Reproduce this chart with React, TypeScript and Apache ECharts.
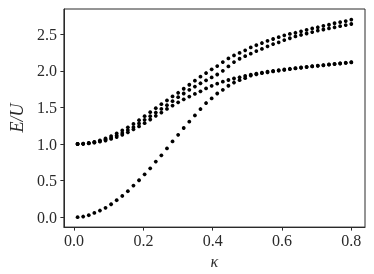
import React, { useEffect, useRef } from "react";
import * as echarts from "echarts";

const kappa: number[] = Array.from({ length: 50 }, (_, i) => 0.01 + (i * 0.79) / 49);

const ground: number[] = [
  0.0, 0.009, 0.027, 0.058, 0.091, 0.128, 0.177, 0.232, 0.29, 0.355,
  0.432, 0.505, 0.586, 0.668, 0.76, 0.845, 0.94, 1.035, 1.125, 1.219,
  1.305, 1.39, 1.478, 1.56, 1.623, 1.69, 1.74, 1.796, 1.84, 1.872,
  1.9, 1.935, 1.952, 1.968, 1.98, 1.992, 2.003, 2.013, 2.023, 2.033,
  2.042, 2.051, 2.06, 2.068, 2.076, 2.084, 2.092, 2.1, 2.108, 2.115,
];

const third: number[] = [
  1.0, 1.002, 1.008, 1.018, 1.032, 1.048, 1.07, 1.095, 1.125, 1.16,
  1.2, 1.24, 1.285, 1.335, 1.385, 1.43, 1.48, 1.525, 1.57, 1.61,
  1.648, 1.685, 1.72, 1.76, 1.795, 1.825, 1.852, 1.875, 1.895, 1.912,
  1.93, 1.948, 1.962, 1.975, 1.988, 1.998, 2.008, 2.018, 2.028, 2.037,
  2.046, 2.055, 2.063, 2.071, 2.079, 2.087, 2.095, 2.103, 2.11, 2.12,
];

const second: number[] = [
  1.0, 1.003, 1.012, 1.024, 1.04, 1.06, 1.085, 1.115, 1.15, 1.19,
  1.23, 1.28, 1.33, 1.38, 1.43, 1.48, 1.53, 1.585, 1.64, 1.69,
  1.74, 1.785, 1.83, 1.87, 1.91, 1.95, 2.0, 2.06, 2.12, 2.165,
  2.2, 2.235, 2.27, 2.3, 2.335, 2.365, 2.39, 2.42, 2.445, 2.47,
  2.49, 2.51, 2.53, 2.55, 2.565, 2.58, 2.595, 2.61, 2.625, 2.64,
];

const top: number[] = [
  1.0, 1.004, 1.015, 1.03, 1.05, 1.076, 1.108, 1.145, 1.185, 1.228,
  1.275, 1.325, 1.38, 1.435, 1.49, 1.545, 1.595, 1.65, 1.7, 1.755,
  1.81, 1.865, 1.92, 1.97, 2.02, 2.065, 2.12, 2.17, 2.21, 2.245,
  2.28, 2.32, 2.35, 2.38, 2.41, 2.435, 2.46, 2.485, 2.505, 2.52,
  2.54, 2.56, 2.58, 2.595, 2.615, 2.63, 2.65, 2.665, 2.68, 2.7,
];

const xTicks: number[] = [0, 0.2, 0.4, 0.6, 0.8];
const yTicks: number[] = [0, 0.5, 1.0, 1.5, 2.0, 2.5];

const branches: number[][] = [ground, third, second, top];

export default function App() {
  const ref = useRef<HTMLDivElement>(null);
  useEffect(() => {
    if (!ref.current) return;
    const chart = echarts.init(ref.current, null, { renderer: "svg" });
    const font = "'Liberation Serif', 'DejaVu Serif', serif";
    const lineStyle = { color: "#2a2a2a", width: 1 };
    chart.setOption({
      animation: false,
      grid: {
        left: 53.5,
        right: 9,
        top: 9,
        bottom: 46,
        show: true,
        borderColor: "#2a2a2a",
        borderWidth: 1,
        backgroundColor: "transparent",
      },
      xAxis: {
        type: "value",
        min: -0.0295,
        max: 0.8395,
        splitLine: { show: false },
        axisLine: { show: true, onZero: false, lineStyle },
        axisTick: { show: true, length: 3.5, lineStyle, customValues: xTicks },
        axisLabel: {
          customValues: xTicks,
          formatter: (v: number) => v.toFixed(1),
          fontFamily: font,
          fontSize: 16,
          color: "#2a2a2a",
          margin: 5,
        },
        name: "κ",
        nameLocation: "middle",
        nameGap: 18,
        nameTextStyle: { fontFamily: font, fontSize: 16, fontStyle: "italic", color: "#2a2a2a" },
      },
      yAxis: {
        type: "value",
        min: -0.1355,
        max: 2.845,
        splitLine: { show: false },
        axisLine: { show: true, onZero: false, lineStyle },
        axisTick: { show: true, length: 3.5, lineStyle, customValues: yTicks },
        axisLabel: {
          customValues: yTicks,
          formatter: (v: number) => v.toFixed(1),
          fontFamily: font,
          fontSize: 16,
          color: "#2a2a2a",
          margin: 7,
        },
        name: "E/U",
        nameLocation: "middle",
        nameGap: 30,
        nameTextStyle: { fontFamily: font, fontSize: 18, fontStyle: "italic", color: "#2a2a2a" },
      },
      series: branches.map((b) => ({
        type: "scatter",
        symbol: "circle",
        symbolSize: 3.8,
        itemStyle: { color: "#000", opacity: 1 },
        data: kappa.map((k, i) => [k, b[i]]),
      })),
    });
    return () => chart.dispose();
  }, []);
  return (
    <div
      ref={ref}
      style={{ position: "fixed", left: 0, top: 0, width: 374, height: 274 }}
    />
  );
}
